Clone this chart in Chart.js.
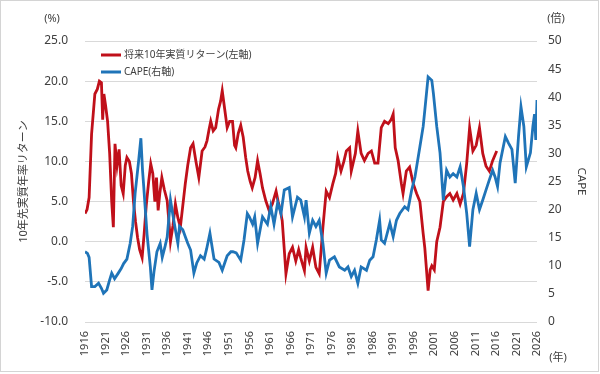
<!DOCTYPE html>
<html>
<head>
<meta charset="utf-8">
<script src="https://cdn.jsdelivr.net/npm/chart.js@4"></script>
<style>
  html, body { margin: 0; padding: 0; background: #fff; }
  #wrap { width: 600px; height: 374px; position: relative; }
</style>
</head>
<body>
<div id="wrap"><canvas id="chart"></canvas></div>
<script>
// 将来10年実質リターン(左軸, %)
const returnYears = [1916.0,1916.5,1917.0,1917.6,1918.4,1919.0,1919.5,1920.0,1920.3,1920.6,1921.0,1921.5,1922.0,1922.5,1922.9,1923.3,1923.8,1924.3,1924.8,1925.3,1925.8,1926.2,1926.8,1927.3,1927.8,1928.3,1928.8,1929.3,1929.9,1930.4,1930.9,1931.5,1932.0,1932.5,1933.0,1933.4,1933.8,1934.2,1934.7,1935.3,1936.0,1936.5,1936.8,1937.4,1938.0,1938.6,1939.2,1939.8,1940.4,1941.0,1941.7,1942.3,1943.0,1943.7,1944.5,1945.2,1945.7,1946.2,1946.6,1947.2,1947.8,1948.5,1949.0,1949.4,1950.0,1950.6,1951.2,1951.9,1952.4,1952.7,1953.3,1953.9,1954.5,1955.1,1955.6,1956.2,1956.7,1957.4,1958.0,1958.6,1959.2,1960.0,1960.8,1961.6,1962.5,1963.0,1963.5,1964.0,1964.5,1964.9,1965.7,1966.5,1967.3,1968.0,1968.5,1969.4,1969.8,1970.6,1971.4,1972.2,1973.0,1973.9,1974.7,1975.5,1976.3,1977.0,1977.5,1978.3,1979.0,1979.6,1980.4,1980.8,1981.8,1982.4,1983.2,1984.0,1984.9,1985.7,1986.5,1987.3,1988.1,1988.9,1989.8,1990.5,1991.0,1991.5,1992.2,1993.0,1993.4,1994.2,1995.0,1995.9,1996.7,1997.5,1998.3,1998.7,1999.5,2000.0,2000.4,2001.0,2001.6,2002.4,2003.2,2004.0,2004.8,2005.6,2006.5,2007.3,2008.1,2008.9,2009.6,2010.4,2011.2,2012.0,2012.8,2013.6,2014.4,2015.2,2016.2];
const returnValues = [3.5,4.0,5.5,13.4,18.4,19.0,20.0,19.8,15.2,18.4,17.0,15.0,11.0,5.0,1.8,12.2,9.5,11.5,7.0,6.0,9.5,10.5,10.0,8.5,5.0,2.5,0.5,-1.0,-2.0,1.0,4.5,7.5,9.7,8.5,5.0,8.0,3.9,6.0,8.0,6.5,5.1,2.0,0.0,2.0,4.7,3.0,1.8,4.5,7.2,9.5,11.7,12.2,10.0,8.0,11.3,11.8,12.6,14.0,15.0,13.8,14.2,16.5,17.5,18.8,16.5,14.2,15.0,15.0,12.0,11.7,13.5,14.5,13.0,10.5,8.8,7.5,6.7,8.0,10.1,8.5,6.7,5.1,3.9,4.7,6.3,5.0,4.0,2.6,-1.0,-4.0,-1.5,-0.7,-2.4,-1.0,-2.0,-3.6,-0.7,-2.4,-0.7,-3.2,-4.0,1.8,6.3,5.5,7.2,8.5,10.5,8.8,10.0,11.3,11.7,8.8,11.0,13.8,11.0,10.1,11.0,11.3,9.8,9.8,14.2,15.0,14.7,15.2,15.9,11.7,10.1,7.2,6.0,8.8,9.3,7.2,6.0,5.0,1.0,-0.8,-6.1,-3.5,-3.0,-3.5,0.0,1.8,5.0,5.6,6.0,5.2,6.0,4.7,6.0,9.8,14.2,11.3,12.0,14.2,11.0,9.4,8.8,10.1,11.3];

// CAPE(右軸, 倍)
const capeYears = [1916.0,1916.6,1917.0,1917.6,1918.4,1919.3,1920.0,1920.5,1921.3,1922.0,1922.5,1923.2,1924.1,1924.8,1925.4,1926.2,1927.0,1927.6,1928.2,1929.0,1929.6,1930.0,1930.3,1931.1,1931.9,1932.3,1932.8,1933.5,1934.3,1934.8,1935.5,1936.0,1936.8,1937.4,1938.0,1938.6,1939.0,1939.8,1940.5,1941.0,1941.7,1942.5,1943.2,1944.1,1945.0,1945.6,1946.4,1947.4,1948.6,1949.4,1950.0,1950.6,1951.5,1952.0,1952.8,1953.9,1954.7,1955.5,1956.0,1956.8,1957.3,1958.0,1959.2,1960.4,1961.2,1962.0,1962.9,1963.7,1964.5,1965.7,1966.5,1967.7,1968.5,1969.4,1969.8,1970.6,1971.4,1972.2,1973.0,1973.9,1974.7,1975.5,1976.7,1977.9,1979.2,1980.0,1980.8,1981.6,1982.4,1983.2,1984.5,1985.3,1986.1,1986.9,1987.7,1988.1,1988.9,1990.2,1991.0,1991.8,1992.6,1993.8,1994.6,1995.5,1996.3,1997.5,1998.3,1998.7,1999.5,2000.4,2000.8,2001.6,2002.4,2003.2,2004.0,2004.8,2005.6,2006.5,2007.3,2008.1,2008.9,2009.6,2010.4,2011.2,2012.0,2012.8,2013.6,2014.4,2015.2,2015.8,2016.4,2017.0,2018.3,2019.1,2019.9,2020.7,2021.5,2022.1,2022.8,2023.4,2024.4,2025.0,2025.4,2025.7,2026.0];
const capeValues = [12.5,12.2,11.5,6.3,6.3,6.9,6.0,5.1,5.7,7.5,8.7,7.7,8.7,9.5,10.4,11.2,14.0,17.0,22.9,28.3,32.7,27.0,24.0,15.6,9.8,5.7,9.0,12.5,14.0,11.5,13.5,15.1,21.7,19.0,16.4,14.0,17.0,16.4,15.0,14.0,12.8,8.7,10.5,11.8,11.2,13.0,15.8,11.2,10.6,9.2,10.5,11.8,12.5,12.5,12.3,11.0,14.6,19.3,18.7,17.4,18.7,14.0,18.7,17.4,20.6,17.4,21.3,19.3,23.5,23.9,18.7,22.2,21.7,18.7,21.7,15.8,18.1,17.0,18.1,14.0,8.7,11.0,11.6,9.8,9.2,9.8,8.1,9.2,6.9,9.8,9.2,11.0,11.6,14.6,18.1,14.6,14.0,17.6,15.2,18.1,19.3,20.5,20.0,23.5,25.8,31.2,34.8,37.7,43.6,43.0,40.6,34.8,30.1,21.7,27.0,25.8,26.4,25.8,27.6,24.1,19.3,13.4,20.0,22.9,20.0,21.7,23.5,25.3,27.0,25.8,24.1,28.3,33.0,31.8,30.7,24.7,33.0,38.3,34.8,27.6,30.1,34.8,37.0,32.4,39.5];

// 目盛り
const xTickYears = [1916,1921,1926,1931,1936,1941,1946,1951,1956,1961,1966,1971,1976,1981,1986,1991,1996,2001,2006,2011,2016,2021,2026];
const leftTicks = [-10,-5,0,5,10,15,20,25];
const rightTicks = [0,5,10,15,20,25,30,35,40,45,50];

const RED = '#c0101a';
const BLUE = '#1f74b8';
const TEXT = '#404040';
const FONT = "'Noto Sans', 'Noto Sans CJK JP', sans-serif";

function toPoints(xs, ys) {
  return xs.map((x, i) => ({ x: x, y: ys[i] }));
}

// 枠線・単位・凡例
const decorPlugin = {
  id: 'decor',
  beforeDraw(chart) {
    const c = chart.ctx;
    c.save();
    c.fillStyle = '#fff';
    c.fillRect(0, 0, chart.width, chart.height);
    c.strokeStyle = '#d4d4d4';
    c.lineWidth = 1;
    c.strokeRect(0.5, 0.5, chart.width - 2, 371);
    c.restore();
  },
  afterDraw(chart) {
    const c = chart.ctx;
    c.save();
    c.fillStyle = TEXT;
    c.font = '11px ' + FONT;
    c.textBaseline = 'middle';
    c.textAlign = 'center';
    c.fillText('(%)', 52, 19);
    c.fillText('(倍)', 556, 19);
    c.fillText('(年)', 558, 358);

    // 凡例
    c.textAlign = 'left';
    c.font = '10px ' + FONT;
    c.lineWidth = 3;
    c.strokeStyle = RED;
    c.beginPath(); c.moveTo(101, 55); c.lineTo(121, 55); c.stroke();
    c.fillText('将来10年実質リターン(左軸)', 124, 55);
    c.strokeStyle = BLUE;
    c.beginPath(); c.moveTo(101, 72); c.lineTo(121, 72); c.stroke();
    c.fillText('CAPE(右軸)', 124, 72);
    c.restore();
  }
};

new Chart(document.getElementById('chart'), {
  type: 'line',
  data: {
    datasets: [
      {
        label: '将来10年実質リターン(左軸)',
        data: toPoints(returnYears, returnValues),
        borderColor: RED,
        borderWidth: 2.8,
        pointRadius: 0,
        tension: 0,
        yAxisID: 'y',
        order: 1
      },
      {
        label: 'CAPE(右軸)',
        data: toPoints(capeYears, capeValues),
        borderColor: BLUE,
        borderWidth: 2.8,
        pointRadius: 0,
        tension: 0,
        yAxisID: 'y1',
        order: 0
      }
    ]
  },
  options: {
    responsive: true,
    maintainAspectRatio: false,
    animation: false,
    layout: { padding: { top: 41, left: 0, right: 0, bottom: 0 } },
    plugins: { legend: { display: false }, tooltip: { enabled: false } },
    scales: {
      x: {
        type: 'linear',
        min: 1916,
        max: 2026,
        afterBuildTicks: s => { s.ticks = xTickYears.map(v => ({ value: v })); },
        afterFit: s => { s.height = 52; },
        grid: { display: false, drawTicks: false },
        border: { display: false },
        ticks: {
          minRotation: 90, maxRotation: 90, padding: 9, autoSkip: false,
          color: TEXT, font: { family: FONT, size: 11 },
          callback: v => String(v)
        }
      },
      y: {
        position: 'left',
        min: -10,
        max: 25,
        afterBuildTicks: s => { s.ticks = leftTicks.map(v => ({ value: v })); },
        afterFit: s => { s.width = 85; },
        grid: { color: '#d9d9d9', lineWidth: 1, drawTicks: false },
        border: { display: false },
        ticks: {
          padding: 17, color: TEXT, font: { family: FONT, size: 12 },
          callback: v => v.toFixed(1)
        },
        title: {
          display: true, text: '10年先実質年率リターン',
          color: TEXT, font: { family: FONT, size: 11 },
          padding: { top: 17, bottom: 0 }
        }
      },
      y1: {
        position: 'right',
        min: 0,
        max: 50,
        afterBuildTicks: s => { s.ticks = rightTicks.map(v => ({ value: v })); },
        afterFit: s => { s.width = 63; },
        grid: { display: false, drawTicks: false },
        border: { display: false },
        ticks: {
          padding: 11, color: TEXT, font: { family: FONT, size: 12 },
          callback: v => String(v)
        },
        title: {
          display: true, text: 'CAPE',
          color: TEXT, font: { family: FONT, size: 11.5 },
          padding: { top: 12, bottom: 0 }
        }
      }
    }
  },
  plugins: [decorPlugin]
});
</script>
</body>
</html>
